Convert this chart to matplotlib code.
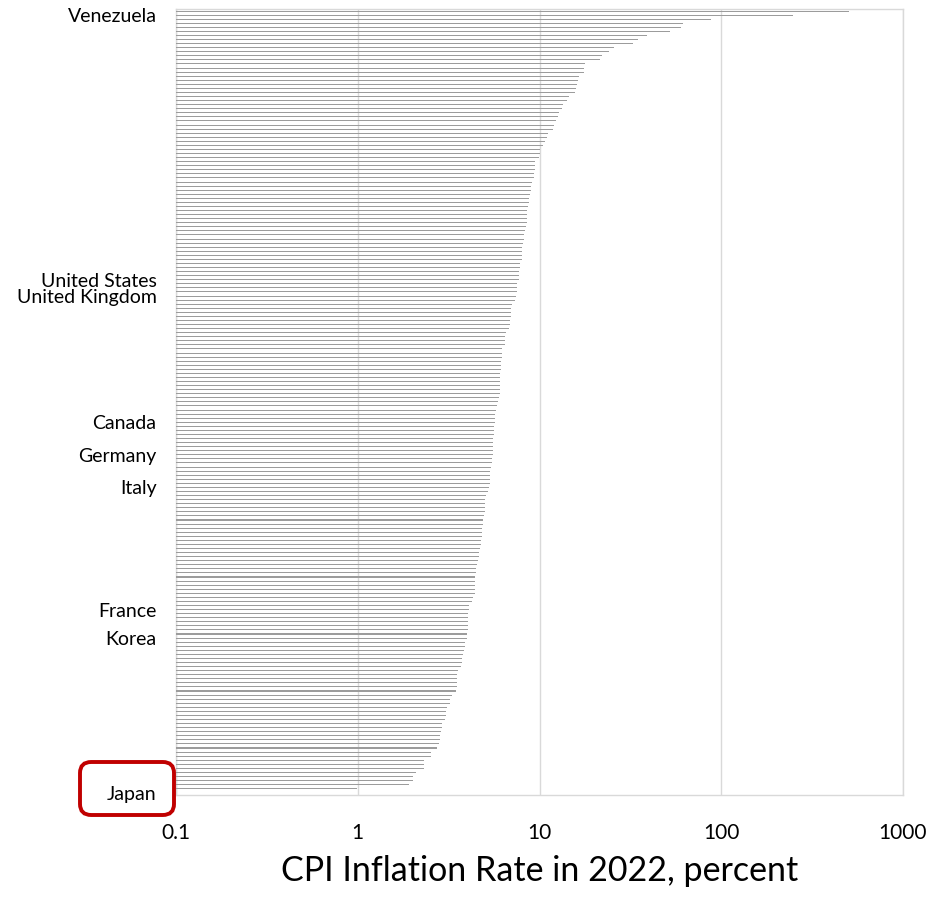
import matplotlib
matplotlib.use('Agg')
import matplotlib.pyplot as plt
from matplotlib.patches import FancyBboxPatch
import numpy as np

plt.rcParams['font.family'] = ['Lato', 'DejaVu Sans']

# 2022 CPI inflation, percent, sorted high -> low (192 economies)
inflation = [
    505, 247, 87.5, 61.3, 60.3, 52.0, 39.2, 34.7, 32.6, 25.7, 24.1, 22.0, 21.4, 17.7, 17.6,
    17.5, 16.4, 16.2, 16.1, 15.9, 15.6, 14.6, 14.2, 13.4, 13.3, 12.8, 12.7, 12.4, 12.0, 11.8,
    11.2, 11.0, 10.7, 10.4, 10.1, 10.0, 9.9, 9.5, 9.45, 9.45, 9.3, 9.3, 9.06, 8.98, 8.95, 8.83,
    8.75, 8.72, 8.61, 8.58, 8.50, 8.50, 8.50, 8.40, 8.32, 8.25, 8.22, 8.08, 8.05, 8.05, 8.05,
    7.98, 7.78, 7.78, 7.75, 7.71, 7.68, 7.55, 7.55, 7.48, 7.39, 7.30, 7.03, 6.97, 6.94, 6.94,
    6.88, 6.85, 6.80, 6.57, 6.44, 6.44, 6.44, 6.24, 6.22, 6.19, 6.16, 6.12, 6.12, 6.07, 6.07,
    6.04, 6.04, 6.04, 6.04, 5.97, 5.91, 5.84, 5.77, 5.72, 5.70, 5.67, 5.65, 5.60, 5.60, 5.57, 5.55,
    5.53, 5.52, 5.52, 5.48, 5.46, 5.41, 5.34, 5.32, 5.32, 5.32, 5.26, 5.21, 5.08, 5.04, 5.04,
    4.99, 4.99, 4.93, 4.89, 4.87, 4.85, 4.84, 4.84, 4.79, 4.75, 4.69, 4.67, 4.63, 4.59, 4.55, 4.48,
    4.46, 4.44, 4.42, 4.42, 4.42, 4.40, 4.31, 4.27, 4.11, 4.08, 4.06, 4.03, 4.03, 4.03, 4.03,
    3.99, 3.97, 3.88, 3.88, 3.82, 3.79, 3.76, 3.73, 3.68, 3.55, 3.52, 3.51, 3.51, 3.51, 3.49,
    3.31, 3.22, 3.20, 3.10, 3.07, 3.05, 3.02, 2.91, 2.91, 2.88, 2.85, 2.82, 2.81, 2.72,
    2.52, 2.52, 2.31, 2.31, 2.31, 2.10, 2.01, 2.01, 1.91, 0.99,
]

# countries that get a name on the axis, with their row from the top
labeled = ['Venezuela', 'United States', 'United Kingdom', 'Canada', 'Germany',
           'Italy', 'France', 'Korea', 'Japan']
labeled_rows = [1, 66, 70, 101, 109, 117, 147, 154, 192]

xticks = [0.1, 1, 10, 100, 1000]
xtick_labels = ['0.1', '1', '10', '100', '1000']

vals = np.array(inflation)
rows = np.arange(len(vals))

W, H = 931, 916
fig = plt.figure(figsize=(W / 100, H / 100), dpi=100, facecolor='white')
ax = fig.add_axes([176 / W, 1 - 795 / H, 727 / W, 786 / H])

ax.set_xscale('log')
ax.barh(rows, vals - 0.1, left=0.1, height=0.26, color='#9c9c9c', linewidth=0, zorder=3)

ax.set_xlim(0.1, 1000)
ax.set_ylim(len(vals) + 0.55, -0.5)

ax.set_xticks(xticks)
ax.set_xticklabels(xtick_labels, fontsize=15)
ax.xaxis.set_minor_locator(matplotlib.ticker.NullLocator())
ax.set_yticks(labeled_rows)
ax.set_yticklabels(labeled, fontsize=14)
ax.tick_params(axis='both', length=0, colors='black')
ax.tick_params(axis='y', pad=14)
ax.tick_params(axis='x', pad=20)

ax.grid(axis='x', color='#d9d9d9', linewidth=1.0, zorder=0)
for s in ax.spines.values():
    s.set_color('#d9d9d9')
    s.set_linewidth(1.0)

ax.set_xlabel('CPI Inflation Rate in 2022, percent', fontsize=24.5, labelpad=9)

# red frame around the Japan label
box = FancyBboxPatch((80 / W, 1 - 815 / H), 94 / W, 53 / H,
                     boxstyle='round,pad=0,rounding_size=0.012',
                     transform=fig.transFigure, facecolor='none',
                     edgecolor='#c00000', linewidth=2.8, zorder=5)
fig.patches.append(box)

fig.savefig('out.png', dpi=100, facecolor='white')
